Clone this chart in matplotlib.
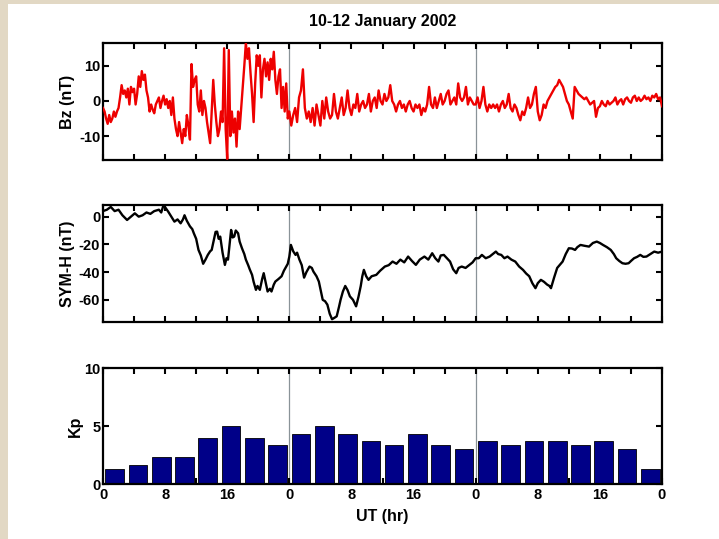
import numpy as np
import matplotlib
matplotlib.use("Agg")
import matplotlib.pyplot as plt
from matplotlib.patches import Rectangle

plt.rcParams['font.family'] = ['Liberation Sans', 'DejaVu Sans']
plt.rcParams['font.weight'] = 'bold'
plt.rcParams['axes.unicode_minus'] = False

# ---- IMF Bz (nT): day 1 sampled every 0.2 h, days 2-3 every 0.25 h ----
bz_hours_day1 = np.arange(0, 24, 0.2)
bz_day1 = [-2, -3, -5, -6.5, -4, -6, -5, -3, -4.5, -3,
           -2, 1, 4.5, 2, 3, 1, 3.5, -1, 4, 2.5,
           3.5, -1, 2, 7, 4, 8.5, 6, 7.5, 3, 1,
           -3, -1, -2.5, -3.5, -1, 0, 1, -2, 0, 1.5,
           -1, 0.5, -2, 0, -4, 1, -5, -8, -10, -6,
           -9, -12, -8, -10, -4, -7, -11, 10.5, 4, 6,
           7, -1, -3, 3, -4, 0, -2, -6, -9, -12,
           -3, 6, -1, -6, -10, -8, -3, -6, 15, -8,
           -16.5, 14.5, -10, -3, -9, -5, -13, -3, -8, -2,
           4, 10, 16.5, 12, 15, 8, 2, -6, 5, 13,
           10, 13, 1, 9, 12, 7, 11, 6, 12, 9,
           14, 6, 2, 7, 9, -2, 4, -3, 5, -5]
bz_hours_rest = np.arange(24, 72.01, 0.25)
bz_rest = [-3, -7, -4, -2, -6, 1, 3, 9, -2, -5,
           -3, -6, -2, -7, -1, -4, -7, 0, -5, 1,
           -3, -5, -4, 2, -3, -5, -2, 1, -4, -2,
           3, -2, -4, -1, -2, 2, -3, -1, 0, -2,
           -1, 2, -3, 0, 1, -2, 3, 0, -1, 2,
           0, 1, 4.5, 0, -1, -3, -1, 0, -2, -1,
           -3, -1, 0, -2, -3, -1, -2, -1, -4, -2,
           -3, -1, 4, -1, -2, 1, -2, 0, 2, -1,
           0, 2, 3, -1, 0, 1, -1, 5, 1, 0,
           1, 4, -1, 1, 0, -1, -1, 1, -2, 0,
           4, -1, -3, -1, -2, -1, -2, -1, -3, -1,
           0, -2, -1, 2, -2, -3, -1, -2, -4, -5.5,
           -3, -4, -2, 1, -2, -1, 2, 4, -3, -5.5,
           -4, -1, -2, 0, 1, 2, 3, 4, 4.5, 6,
           5, 4, 2, 0, -1, -3, -5, 4, 3, 2,
           1.5, 1, 0.5, 1, 0, -1, -0.5, 0, -4.5, -2,
           -1.5, 0, -1, -1.5, 0, -1, -0.5, 0, 1, -1,
           0, 0.5, -1, 0.5, 1, 0, -0.5, 1, 1.5, 0,
           1, 0, 0.5, 1.5, 0.5, 1, 0, 1.5, 1, 2,
           0.5, 1, -1.5]

# ---- SYM-H index (nT) ----
symh_hours = [0, 0.5, 1.0, 1.5, 2.0, 2.5, 3.1, 3.6, 4.1, 4.6,
              5.1, 5.6, 6.1, 6.6, 7.2, 7.5, 7.8, 8.1, 8.4, 8.8,
              9.2, 9.6, 10.0, 10.3, 10.5, 10.8, 11.2, 11.5, 11.7, 12.0,
              12.3, 12.6, 12.9, 13.2, 13.5, 13.8, 14.0, 14.3, 14.5, 14.7,
              14.9, 15.1, 15.4, 15.7, 15.9, 16.1, 16.3, 16.5, 16.7, 16.9,
              17.1, 17.4, 17.6, 17.9, 18.2, 18.4, 18.7, 18.9, 19.2, 19.4,
              19.7, 19.9, 20.2, 20.5, 20.7, 20.9, 21.2, 21.5, 21.7, 22.0,
              22.2, 22.6, 23.0, 23.3, 23.5, 23.8, 24.0, 24.2, 24.5, 24.8,
              25.0, 25.3, 25.6, 25.9, 26.2, 26.6, 26.9, 27.1, 27.5, 27.8,
              28.0, 28.3, 28.6, 28.9, 29.2, 29.5, 29.8, 30.1, 30.4, 30.6,
              30.9, 31.2, 31.5, 31.8, 32.2, 32.6, 32.9, 33.2, 33.4, 33.6,
              33.9, 34.2, 34.6, 35.2, 35.7, 36.3, 36.8, 37.3, 37.8, 38.3,
              38.8, 39.3, 39.8, 40.3, 40.8, 41.4, 41.9, 42.4, 42.8, 43.2,
              43.5, 43.9, 44.3, 44.7, 45.1, 45.5, 45.8, 46.2, 46.7, 47.2,
              47.6, 48.0, 48.4, 48.8, 49.3, 49.8, 50.2, 50.6, 50.9, 51.3,
              51.7, 52.1, 52.6, 53.1, 53.6, 54.1, 54.5, 54.9, 55.3, 55.7,
              56.0, 56.4, 56.8, 57.2, 57.5, 57.7, 58.1, 58.5, 58.8, 59.2,
              59.6, 60.0, 60.4, 60.8, 61.1, 61.5, 62.0, 62.6, 63.1, 63.6,
              64.0, 64.4, 64.9, 65.4, 65.8, 66.1, 66.5, 66.9, 67.3, 67.7,
              68.0, 68.4, 68.8, 69.2, 69.6, 70.0, 70.5, 71.0, 71.5, 72.0]
symh = [4, 5, 7, 4, 5, 1, -2.4, 0, 2.4, 0,
        1, 3, 2, 4, 5, 3, 8.4, 6, 3.6, 0,
        -3.6, -2, -4.8, -2, 1, -3, -7, -9, -12, -16,
        -24, -28, -34, -31, -27.6, -25, -24, -16, -11, -10.8,
        -16, -14.4, -26, -34.8, -30, -31, -20, -9.6, -15, -14.4,
        -10, -12, -18, -22.8, -27, -31, -35, -38, -42, -47,
        -52.8, -50, -52.8, -45, -40.8, -46, -54, -52, -54, -49,
        -46.8, -45, -43, -39, -37, -34, -28.8, -20.4, -25, -27.6,
        -26, -31, -35, -44, -40, -36, -37, -39.6, -43, -46.8,
        -52, -60, -61, -63.5, -70, -74, -73, -71.9, -65, -60,
        -54, -50, -53, -57.5, -60, -64.7, -58, -50, -43, -38.4,
        -43, -45.6, -43, -42, -39, -36, -35, -32.4, -34, -31,
        -33, -28.8, -32, -34.8, -31, -28.8, -31, -26.4, -30, -32.4,
        -28, -27.6, -30, -32.4, -38, -40.8, -37, -36, -37, -34.8,
        -33, -30, -30, -27.6, -30, -28.8, -27, -25.2, -27, -27.6,
        -30, -28.8, -31, -32.4, -36, -38.4, -41, -43, -48, -51.6,
        -48, -45.6, -47, -49, -50, -51.6, -44, -37, -35, -32.4,
        -27, -22.8, -23, -24, -22, -20.4, -21, -21.6, -19, -18,
        -19, -20.4, -22, -24, -27, -30, -32, -33.6, -34, -33.6,
        -32, -30, -29, -27.6, -29, -28.8, -27, -25.2, -26, -25.2]

# ---- Kp index, 3-hour intervals ----
kp_start_hours = list(range(0, 72, 3))
kp = [1.33, 1.67, 2.33, 2.33, 4.0, 5.0, 4.0, 3.33,
      4.33, 5.0, 4.33, 3.67, 3.33, 4.33, 3.33, 3.0,
      3.67, 3.33, 3.67, 3.67, 3.33, 3.67, 3.0, 1.33]

x_ticks = list(range(0, 73, 4))
x_tick_labels = [str(h % 24) if h % 8 == 0 else '' for h in x_ticks]
day_bounds = [24, 48]

W, H = 719, 539
fig = plt.figure(figsize=(W / 100, H / 100), dpi=100)
fig.patch.set_facecolor('#e2d8c4')
fig.patches.append(Rectangle((8 / W, 0), 1 - 8 / W, 1 - 4 / H,
                             transform=fig.transFigure, facecolor='white',
                             edgecolor='none', zorder=-10))


def axes_px(left, top, right, bottom):
    return fig.add_axes([left / W, 1 - bottom / H, (right - left) / W, (bottom - top) / H])


ax1 = axes_px(103, 43, 662, 160)
ax2 = axes_px(103, 205, 662, 322)
ax3 = axes_px(103, 368, 662, 484)

for ax in (ax1, ax2, ax3):
    ax.set_xlim(0, 72)
    ax.set_xticks(x_ticks)
    ax.tick_params(direction='in', length=4, width=1.5, top=True, right=True,
                   labelsize=10.5, pad=2)
    ax.tick_params(axis='x', pad=3)
    for sp in ax.spines.values():
        sp.set_linewidth(1.6)
    for b in day_bounds:
        ax.axvline(b, color='#8a9398', lw=0.9, zorder=1)

ax1.plot(np.concatenate([bz_hours_day1, bz_hours_rest]), bz_day1 + bz_rest,
         color='#ee0000', lw=1.7, zorder=3)
ax1.set_ylim(-16.8, 16.5)
ax1.set_yticks([-10, 0, 10])
ax1.set_xticklabels([])
ax1.set_ylabel('Bz (nT)', fontsize=11.5, fontweight='bold')
ax1.yaxis.set_label_coords(-0.05, 0.5)
ax1.set_title('10-12 January 2002', fontsize=11.5, fontweight='bold', pad=12)

ax2.plot(symh_hours, symh, color='black', lw=1.7, zorder=3)
ax2.set_ylim(-76, 8.4)
ax2.set_yticks([-60, -40, -20, 0])
ax2.set_xticklabels([])
ax2.set_ylabel('SYM-H (nT)', fontsize=11.5, fontweight='bold')
ax2.yaxis.set_label_coords(-0.05, 0.5)

ax3.bar(np.array(kp_start_hours) + 1.5, kp, width=2.4, color='#000088',
        edgecolor='black', lw=0.6, zorder=2)
ax3.set_ylim(0, 10)
ax3.set_yticks([0, 5, 10])
ax3.set_xticklabels(x_tick_labels)
ax3.set_ylabel('Kp', fontsize=11.5, fontweight='bold')
ax3.yaxis.set_label_coords(-0.036, 0.5)
ax3.set_xlabel('UT (hr)', fontsize=11.5, fontweight='bold', labelpad=5)

for ax in (ax1, ax2, ax3):
    for lbl in ax.get_yticklabels() + ax.get_xticklabels():
        lbl.set_fontweight('bold')

fig.savefig('out.png', dpi=100, facecolor=fig.get_facecolor())
